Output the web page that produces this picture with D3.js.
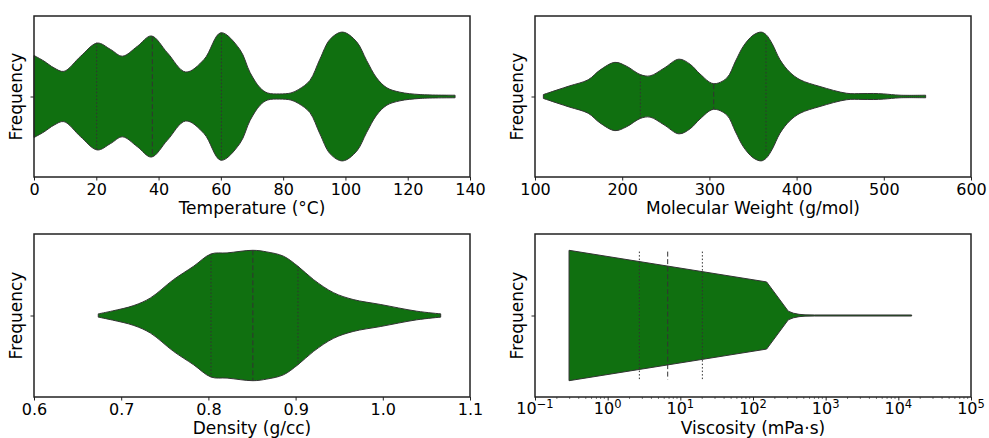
<!DOCTYPE html>
<html><head><meta charset="utf-8">
<script src="https://cdn.jsdelivr.net/npm/d3@7"></script>
<style>body{margin:0;background:#fff}svg{display:block}text{font-family:"DejaVu Sans",sans-serif;fill:#000}</style>
</head><body><svg id="c" width="989" height="438"></svg>
<script>
// ---- data ----
// half-width of each violin, relative to its widest point (1 = widest)
const tempX   = [0,3.2,6.4,9.6,15,20.3,24.6,28.4,33.2,37.7,42.8,48.7,54.6,60,66.1,69.4,72.6,75,78.8,82.5,85,88.6,91.8,95.1,99.1,103.6,106.8,110,113.3,117.5,124,135.2];
const tempW   = [0.637,0.55,0.445,0.39,0.626,0.83,0.73,0.626,0.78,0.94,0.68,0.38,0.575,0.99,0.73,0.37,0.135,0.055,0.04,0.055,0.11,0.25,0.58,0.89,1.0,0.85,0.56,0.29,0.135,0.067,0.03,0.02];
const tempQ   = [20.1,38.0,60.2];
const tempQW  = [0.835,0.93,0.975];
const tempTicks = [0,20,40,60,80,100,120,140];

const mwX  = [109.6,125,140,161,174.5,191.7,205,220.8,231.9,248,265.1,278,289.2,304.5,319.8,330,338.9,350,359.2,365,372,381,392,404,426.8,457.4,475,488,500,518.6,548];
const mwW  = [0.03,0.10,0.166,0.26,0.41,0.53,0.47,0.34,0.32,0.44,0.58,0.50,0.35,0.20,0.285,0.55,0.78,0.95,1.0,0.96,0.82,0.57,0.38,0.26,0.155,0.05,0.045,0.047,0.04,0.02,0.02];
const mwQ  = [220.8,304.9,364.9];
const mwQW = [0.34,0.19,0.87];
const mwTicks = [100,200,300,400,500,600];

const denX = [0.6737,0.69,0.7145,0.7336,0.760,0.783,0.803,0.8214,0.851,0.867,0.886,0.9027,0.9206,0.9435,0.966,0.997,1.039,1.0664];
const denW = [0.025,0.07,0.153,0.27,0.55,0.755,0.944,0.96,1.0,0.975,0.91,0.755,0.55,0.35,0.245,0.17,0.066,0.025];
const denQ = [0.803,0.851,0.9027];
const denQW = [0.944,1.0,0.755];
const denTicks = [0.6,0.7,0.8,0.9,1.0,1.1];

const visX = [0.294,154,306,360,430,520,700,15240];
const visW = [1.0,0.515,0.066,0.035,0.018,0.01,0.008,0.008];
const visQ = [2.73,6.70,20.1];
const visQW = [0.98,0.98,0.98];
const visTicks = [-1,0,1,2,3,4,5];

const xLabels = ["Temperature (°C)","Molecular Weight (g/mol)","Density (g/cc)","Viscosity (mPa·s)"];
const yLabel = "Frequency";

// ---- drawing ----
const svg = d3.select("#c");
const fill = "#107010", edge = "#333333";
const smooth = d3.curveCatmullRom.alpha(0.5);
const panels = [
  {x0:34,x1:470,y0:16,y1:177, xs:d3.scaleLinear().domain([0,140]), X:tempX,W:tempW,Q:tempQ,QW:tempQW,ticks:tempTicks,fmt:d3.format("d"),curve:smooth,lab:xLabels[0]},
  {x0:535,x1:971,y0:16,y1:177, xs:d3.scaleLinear().domain([100,600]), X:mwX,W:mwW,Q:mwQ,QW:mwQW,ticks:mwTicks,fmt:d3.format("d"),curve:smooth,lab:xLabels[1]},
  {x0:34,x1:470,y0:234,y1:397, xs:d3.scaleLinear().domain([0.6,1.1]), X:denX,W:denW,Q:denQ,QW:denQW,ticks:denTicks,fmt:d3.format(".1f"),curve:smooth,lab:xLabels[2]},
  {x0:535,x1:971,y0:234,y1:397, xs:d3.scaleLog().domain([0.1,1e5]), X:visX,W:visW,Q:visQ,QW:visQW,ticks:visTicks.map(e=>Math.pow(10,e)),log:true,curve:d3.curveLinear,lab:xLabels[3]}
];

panels.forEach((p,i)=>{
  const xs = p.xs.range([p.x0,p.x1]);
  const ys = d3.scaleLinear().domain([-0.5,0.5]).range([p.y1,p.y0]);
  const g = svg.append("g");
  const pts = p.X.map((x,j)=>({x, w:p.W[j]*0.4}));
  const area = d3.area().x(d=>xs(d.x)).y0(d=>ys(-d.w)).y1(d=>ys(d.w)).curve(p.curve);
  g.append("path").attr("d",area(pts)).attr("fill",fill).attr("stroke",edge).attr("stroke-width",1);
  p.Q.forEach((q,j)=>{
    g.append("line").attr("x1",xs(q)).attr("x2",xs(q))
      .attr("y1",ys(p.QW[j]*0.4)).attr("y2",ys(-p.QW[j]*0.4))
      .attr("stroke",edge).attr("stroke-width",1)
      .attr("stroke-dasharray", j===1 ? "5,2.5" : "1.5,2");
  });
  // frame
  g.append("rect").attr("x",p.x0).attr("y",p.y0).attr("width",p.x1-p.x0).attr("height",p.y1-p.y0)
    .attr("fill","none").attr("stroke","#222").attr("stroke-width",1.5);
  // x axis
  const ax = g.append("g").attr("transform",`translate(0,${p.y1})`);
  if(!p.log){
    ax.call(d3.axisBottom(xs).tickValues(p.ticks).tickFormat(p.fmt).tickSize(3.5).tickPadding(3));
  } else {
    const minor=[];
    for(let e=-1;e<5;e++) for(let k=2;k<10;k++) minor.push(k*Math.pow(10,e));
    ax.selectAll("line.minor").data(minor).join("line").attr("x1",d=>xs(d)).attr("x2",d=>xs(d))
      .attr("y1",0).attr("y2",2).attr("stroke","#222").attr("stroke-width",0.6);
    ax.call(d3.axisBottom(xs).tickValues(p.ticks).tickFormat("").tickSize(3.5).tickPadding(3));
    ax.selectAll(".tick text").remove();
    p.ticks.forEach((t,j)=>{
      const e = visTicks[j];
      const tx = ax.append("text").attr("x",xs(t)).attr("y",17).attr("text-anchor","middle").style("font-size","16px");
      tx.append("tspan").text("10");
      tx.append("tspan").attr("dy",-6).style("font-size","11.5px").text(e<0?"\u2212"+(-e):String(e));
    });
  }
  ax.select(".domain").remove();
  ax.selectAll(".tick line").attr("stroke","#222");
  ax.selectAll(".tick text").style("font-size","16px").style("font-family","DejaVu Sans");
  // y axis tick
  const ay = g.append("g").attr("transform",`translate(${p.x0},0)`);
  ay.call(d3.axisLeft(ys).tickValues([0]).tickFormat("").tickSize(3.5));
  ay.select(".domain").remove();
  ay.selectAll(".tick line").attr("stroke","#222");
  // labels
  g.append("text").attr("x",(p.x0+p.x1)/2).attr("y",p.y1+37).attr("text-anchor","middle")
    .style("font-size","17px").text(p.lab);
  g.append("text").attr("transform",`translate(${p.x0-12.5},${(p.y0+p.y1)/2}) rotate(-90)`)
    .attr("text-anchor","middle").style("font-size","17px").text(yLabel);
});
</script></body></html>
